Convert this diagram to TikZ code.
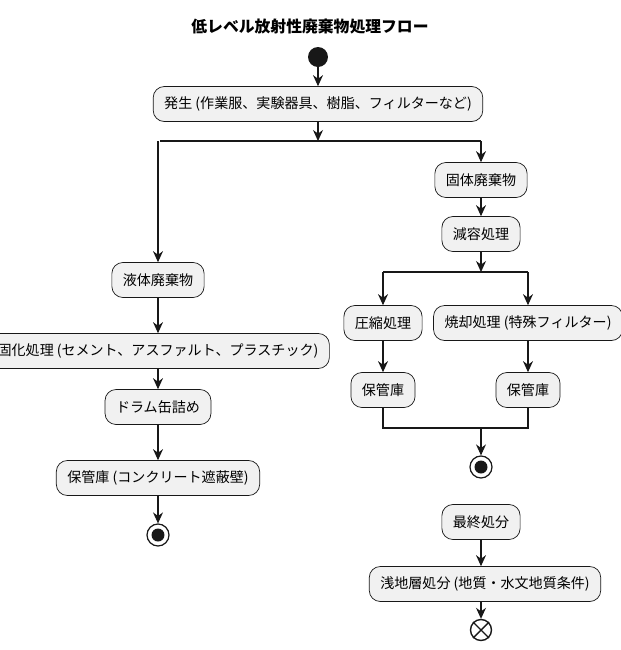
\documentclass[tikz,border=0pt]{standalone}
\usepackage{fontspec}
\setmainfont{Noto Sans CJK JP}
\usetikzlibrary{arrows.meta}
\definecolor{boxfill}{HTML}{F1F1F1}
\definecolor{boxline}{HTML}{181818}
\tikzset{
  act/.style={draw=boxline, fill=boxfill, rounded corners=0.22cm, minimum height=0.7cm, inner xsep=0.22cm, font=\fontsize{8}{10}\selectfont},
  flow/.style={draw=boxline, line width=0.6pt, -{Stealth[length=2.2mm,width=2mm]}},
  bar/.style={draw=boxline, line width=1.2pt},
  startdot/.style={circle, fill=boxline, minimum size=0.4cm, inner sep=0pt},
  stopdot/.style={circle, draw=boxline, line width=0.7pt, minimum size=0.44cm, inner sep=0pt, path picture={\fill[boxline] (path picture bounding box.center) circle (0.13cm);}},
}
\begin{document}
\begin{tikzpicture}[x=0.02cm, y=-0.02cm]
\useasboundingbox (0,0) rectangle (621,650);

% Title
\node[font=\fontsize{9}{11}\selectfont\bfseries] (title) at (310,27) {低レベル放射性廃棄物処理フロー};

% Start and first activity
\node[startdot] (start) at (318,57) {};
\node[act] (gen) at (318,104) {発生 (作業服、実験器具、樹脂、フィルターなど)};
\coordinate (fa) at (318,141);
\draw[flow] (start) -- (gen);
\draw[flow] (gen) -- (fa);
\draw[bar] (160,141) -- (481,141);

% Liquid branch
\node[act] (liq) at (158,280) {液体廃棄物};
\node[act] (sol) at (158,351) {固化処理 (セメント、アスファルト、プラスチック)};
\node[act] (drum) at (158,407) {ドラム缶詰め};
\node[act] (store1) at (158,478) {保管庫 (コンクリート遮蔽壁)};
\node[stopdot] (end1) at (158,535) {};
\coordinate (fl) at (158,141);
\draw[flow] (fl) -- (liq);
\draw[flow] (liq) -- (sol);
\draw[flow] (sol) -- (drum);
\draw[flow] (drum) -- (store1);
\draw[flow] (store1) -- (end1);

% Solid branch
\node[act] (solid) at (481,180) {固体廃棄物};
\node[act] (reduce) at (481,234) {減容処理};
\coordinate (fr) at (481,141);
\coordinate (fb) at (481,272);
\draw[flow] (fr) -- (solid);
\draw[flow] (solid) -- (reduce);
\draw[flow] (reduce) -- (fb);
\draw[bar] (383,272) -- (528,272);

\node[act] (press) at (383,323) {圧縮処理};
\node[act] (burn) at (528,323) {焼却処理 (特殊フィルター)};
\node[act] (store2) at (383,390) {保管庫};
\node[act] (store3) at (528,390) {保管庫};
\coordinate (fb1) at (383,272);
\coordinate (fb2) at (528,272);
\draw[flow] (fb1) -- (press);
\draw[flow] (fb2) -- (burn);
\draw[flow] (press) -- (store2);
\draw[flow] (burn) -- (store3);

% Join
\coordinate (j1) at (383,428);
\coordinate (j2) at (528,428);
\coordinate (jm) at (481,428);
\draw[boxline, line width=0.6pt] (store2) -- (j1) -- (j2) -- (store3);
\node[stopdot] (end2) at (481,467) {};
\draw[flow] (jm) -- (end2);

% Final disposal
\node[act] (final) at (481,522) {最終処分};
\node[act] (shallow) at (485,584) {浅地層処分 (地質・水文地質条件)};
\node[circle, draw=boxline, line width=0.8pt, minimum size=0.42cm, inner sep=0pt] (flowend) at (481,630) {};
\draw[boxline, line width=0.8pt] (flowend.north west) -- (flowend.south east) (flowend.north east) -- (flowend.south west);
\draw[flow] (final) -- (final |- shallow.north);
\draw[flow] (final |- shallow.south) -- (flowend);
\end{tikzpicture}
\end{document}
